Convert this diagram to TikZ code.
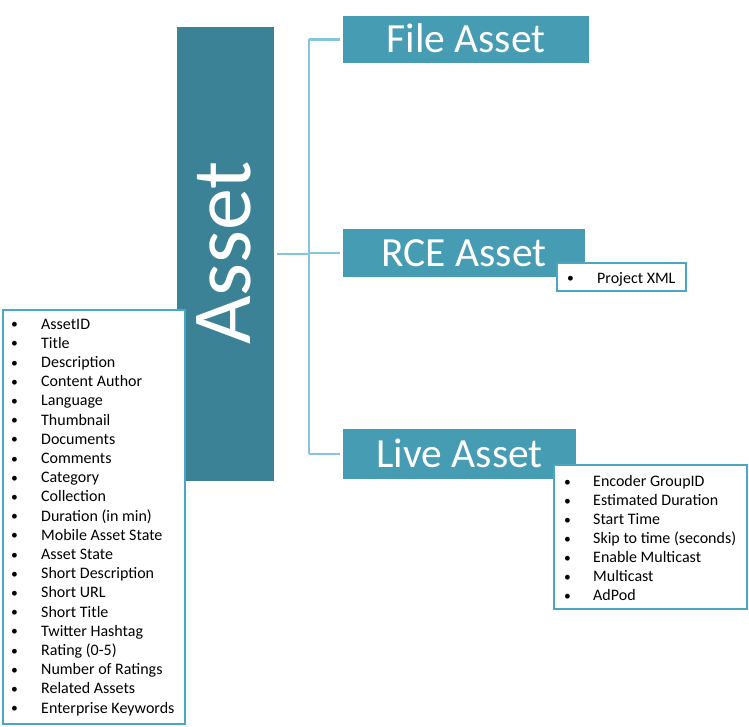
\documentclass[tikz,border=0pt]{standalone}
\usepackage{fontspec}
\setmainfont{Carlito}
\usepackage{array}
\definecolor{assetcol}{HTML}{3B8296}
\definecolor{subcol}{HTML}{469CB3}
\definecolor{linecol}{HTML}{86C5DB}
\definecolor{listcol}{HTML}{4BA6BF}
\newcommand{\bul}{\raisebox{0.5pt}{\scalebox{0.85}{\textbullet}}}
\tikzset{
  mainbox/.style={fill=assetcol, draw=none, anchor=north west, inner sep=0pt, outer sep=0pt},
  subbox/.style={fill=subcol, draw=none, anchor=north west, inner sep=0pt, outer sep=0pt, text=white,
    font=\fontsize{41.5}{48}\selectfont, text height=27pt, text depth=0pt},
  listbox/.style={fill=white, draw=listcol, line width=2.5pt, anchor=north west, inner sep=0pt, outer sep=0pt},
  listtext/.style={anchor=north west, inner sep=0pt, font=\fontsize{16}{19.2}\selectfont},
  conn/.style={draw=linecol, line width=2.5pt, shorten <=3pt, shorten >=3pt},
  conni/.style={draw=linecol, line width=2.5pt},
}
\begin{document}
\begin{tikzpicture}[x=1pt,y=-1pt]
\useasboundingbox (0,0) rectangle (749,727);
% main box
\node[mainbox, minimum width=97pt, minimum height=454pt] (asset) at (177,27) {};
\node[rotate=90, anchor=base, text=white, font=\fontsize{84}{90}\selectfont] (assettxt) at (250,253) {Asset};
% sub boxes
\node[subbox, minimum width=246pt, minimum height=47pt] (file) at (343,16) {File Asset};
\node[subbox, minimum width=242pt, minimum height=48pt] (rce) at (343,229) {RCE Asset};
\node[subbox, minimum width=233pt, minimum height=50pt] (live) at (343,429) {Live Asset};
% connectors
\coordinate (jx) at (309,0);
\draw[conni] (file.west -| jx) -- (live.west -| jx);
\draw[conn, shorten <=0pt] (file.west -| jx) -- (file.west);
\draw[conn, shorten <=0pt] (rce.west -| jx) -- (rce.west);
\draw[conn, shorten <=0pt] (live.west -| jx) -- (live.west);
\draw[conn, shorten >=0pt] (asset.east) -- (asset.east -| jx);
% lists
\node[listbox, minimum width=182pt, minimum height=414pt] (leftbox) at (3.2,310.2) {};
\node[listtext] (leftlist) at (11,315.5) {%
\begin{tabular}{@{}p{30pt}@{}l@{}}
\bul & AssetID\\
\bul & Title\\
\bul & Description\\
\bul & Content Author\\
\bul & Language\\
\bul & Thumbnail\\
\bul & Documents\\
\bul & Comments\\
\bul & Category\\
\bul & Collection\\
\bul & Duration (in min)\\
\bul & Mobile Asset State\\
\bul & Asset State\\
\bul & Short Description\\
\bul & Short URL\\
\bul & Short Title\\
\bul & Twitter Hashtag\\
\bul & Rating (0-5)\\
\bul & Number of Ratings\\
\bul & Related Assets\\
\bul & Enterprise Keywords
\end{tabular}};
\node[listbox, minimum width=129pt, minimum height=28pt] (rcebox) at (557.2,263.2) {};
\node[listtext] (rcelist) at (567,269.5) {%
\begin{tabular}{@{}p{30pt}@{}l@{}}
\bul & Project XML
\end{tabular}};
\node[listbox, minimum width=193pt, minimum height=144pt] (livebox) at (554.2,465.2) {};
\node[listtext, font=\fontsize{16}{19}\selectfont] (livelist) at (564,473) {%
\begin{tabular}{@{}p{29pt}@{}l@{}}
\bul & Encoder GroupID\\
\bul & Estimated Duration\\
\bul & Start Time\\
\bul & Skip to time (seconds)\\
\bul & Enable Multicast\\
\bul & Multicast\\
\bul & AdPod
\end{tabular}};
\end{tikzpicture}
\end{document}
